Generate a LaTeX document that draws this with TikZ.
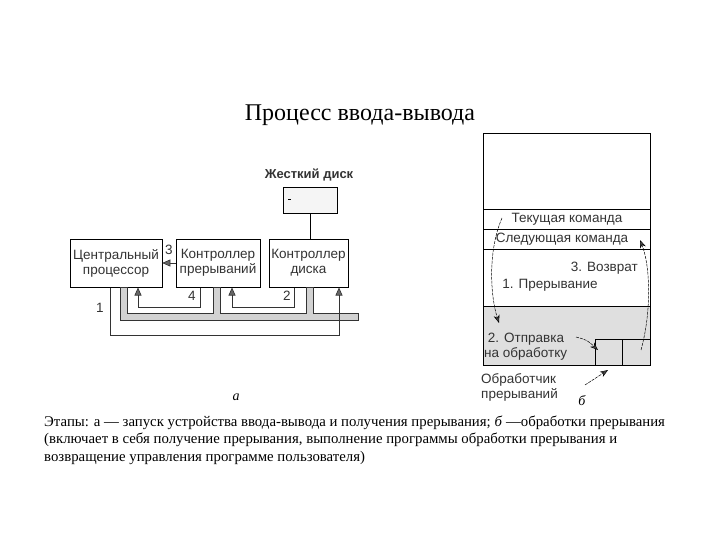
\documentclass[tikz,border=0pt]{standalone}
\usepackage{fontspec}
\setmainfont{Liberation Serif}
\setsansfont{Liberation Sans}
\usetikzlibrary{arrows.meta}
\begin{document}
\begin{tikzpicture}[x=1pt,y=-1pt,
  box/.style={draw,line width=0.6pt,fill=white},
  lbl/.style={font=\sffamily\fontsize{13.5}{15}\selectfont,text=black!80,align=center,inner sep=0},
  arr/.style={-{Triangle[length=8pt,width=7pt,fill=black!60]},line width=0.6pt,draw=black!80},
  carr/.style={-{Stealth[length=8pt,width=6pt,fill=black!70]},line width=0.5pt,dashed,dash pattern=on 3pt off 1pt}]
\useasboundingbox (0,0) rectangle (720,540);
\node[font=\fontsize{24}{26}\selectfont] (title) at (360,115) {Процесс ввода-вывода};
% left diagram
\node[box,minimum width=54pt,minimum height=26pt,fill=gray!8] (hdd) at (310,200) {};
\draw (288,199) -- (291,199);
\node[lbl,font=\sffamily\bfseries\fontsize{13}{14}\selectfont] (hddl) at (309,175) {Жесткий диск};
\node[box,minimum width=92pt,minimum height=48pt] (cpu) at (116,263) {};
\node[lbl] at (cpu) {Центральный\\процессор};
\node[box,minimum width=84pt,minimum height=48pt] (ic) at (218,263) {};
\node[lbl] at (ic) {Контроллер\\прерываний};
\node[box,minimum width=79pt,minimum height=48pt] (dc) at (308.5,263) {};
\node[lbl] at (dc) {Контроллер\\диска};
\draw[line width=0.6pt] (hdd.south) -- (hdd.south |- dc.north);
\fill[gray!35,draw=black!80,line width=0.5pt] (120,287.5)--(120,320)--(358,320)--(358,313)--(313,313)--(313,287.5)--(306,287.5)--(306,313)--(220,313)--(220,287.5)--(213,287.5)--(213,313)--(127,313)--(127,287.5)--cycle;
\coordinate (c1a) at (110,287.5);
\draw[arr] (c1a) -- (110,335) -- (339,335) -- (339,287.5);
\draw[arr] (200,287.5) -- (200,307) -- (138,307) -- (138,287.5);
\draw[arr] (294,287.5) -- (294,307) -- (232,307) -- (232,287.5);
\draw[arr] (ic.west) -- (cpu.east);
\node[lbl] at (169,250) {3};
\node[lbl] at (192,296) {4};
\node[lbl] at (287,296) {2};
\node[lbl] at (100,308) {1};
\node[font=\itshape\fontsize{14}{15}\selectfont] (a) at (236,397) {а};
% right diagram
\fill[gray!25] (483,306) rectangle (650,365);
\draw[line width=0.6pt] (483,133) rectangle (650,365);
\foreach \y in {209,229,249,306} \draw[line width=0.6pt] (483,\y) -- (650,\y);
\draw[line width=0.6pt] (595,365) -- (595,339) -- (650,339);
\draw[line width=0.6pt] (622,339) -- (622,365);
\node[lbl] at (567,219) {Текущая команда};
\node[lbl] at (562,239) {Следующая команда};
\node[lbl,anchor=east] at (638,268) {3. Возврат};
\node[lbl] at (550,285) {1. Прерывание};
\node[lbl,align=left,anchor=west] at (484,347) {\ 2. Отправка\\на обработку};
\node[lbl,align=left,anchor=west] at (481,387) {Обработчик\\прерываний};
\node[font=\itshape\fontsize{14}{15}\selectfont] at (582,401) {б};
\draw[carr] (502,218) .. controls (488,250) and (490,295) .. (499,323);
\draw[carr] (641,350) .. controls (652,310) and (650,265) .. (640,240);
\draw[carr] (576,337) .. controls (587,340) .. (598,350);
\draw[carr] (585,385) -- (608,370);
% caption
\node[anchor=west,align=left,font=\fontsize{14.8}{17.5}\selectfont,inner sep=0] (cap) at (44,440) {Этапы: а — запуск устройства ввода-вывода и получения прерывания; \textit{б} —обработки прерывания\\(включает в себя получение прерывания, выполнение программы обработки прерывания и\\возвращение управления программе пользователя)};
\end{tikzpicture}
\end{document}
